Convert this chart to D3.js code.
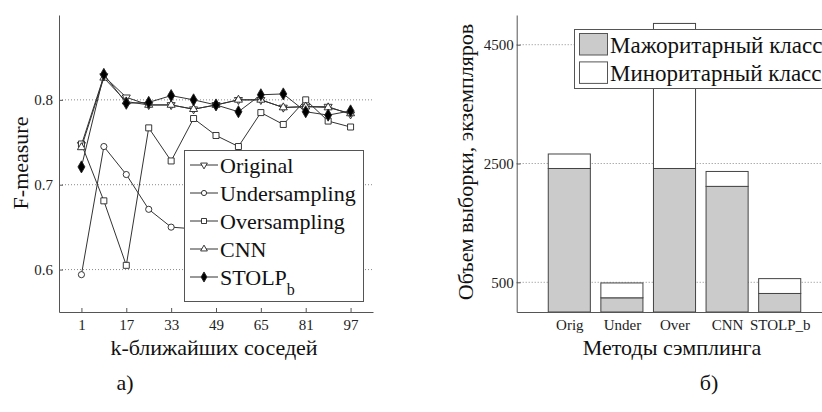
<!DOCTYPE html>
<html>
<head>
<meta charset="utf-8">
<script src="https://cdn.jsdelivr.net/npm/d3@7"></script>
<style>
  body { margin: 0; background: #fff; }
  svg, svg text { font-family: 'Liberation Serif', 'DejaVu Serif', 'Times New Roman', serif; }
  .grid line { stroke: #8a8a8a; stroke-dasharray: 1,2; }
  .axis path, .axis line { stroke: #555; }
  .axis text { fill: #222; font-size: 15px; }
</style>
</head>
<body>
<svg id="fig" width="822" height="412"></svg>
<script>
const FONT = "'Liberation Serif', 'DejaVu Serif', 'Times New Roman', serif";

// левый график: F-measure от k
const kValues = [1, 9, 17, 25, 33, 41, 49, 57, 65, 73, 81, 89, 97];
const original      = [0.747, 0.828, 0.803, 0.794, 0.794, 0.789, 0.794, 0.800, 0.800, 0.791, 0.792, 0.792, 0.783];
const undersampling = [0.594, 0.745, 0.712, 0.671, 0.650, 0.648, 0.645, 0.642, 0.640, 0.638, 0.637, 0.636, 0.635];
const oversampling  = [0.748, 0.681, 0.605, 0.767, 0.728, 0.778, 0.758, 0.745, 0.785, 0.771, 0.800, 0.775, 0.768];
const cnn           = [0.744, 0.826, 0.798, 0.794, 0.794, 0.789, 0.794, 0.800, 0.800, 0.791, 0.792, 0.791, 0.784];
const stolp         = [0.721, 0.830, 0.796, 0.797, 0.805, 0.800, 0.794, 0.786, 0.806, 0.807, 0.786, 0.782, 0.787];
const kTicks = [1, 17, 33, 49, 65, 81, 97];
const fTicks = [0.6, 0.7, 0.8];

// правый график: объем выборки
const methods = ['Orig', 'Under', 'Over', 'CNN', 'STOLP_b'];
const majority = [2416, 239, 2416, 2115, 312];
const minority = [244, 250, 2442, 251, 250];
const sizeTicks = [500, 2500, 4500];

const svg = d3.select('#fig');

function label(x, y, txt, size, rot) {
    return svg.append('text')
        .attr('transform', `translate(${x},${y})` + (rot ? ` rotate(${rot})` : ''))
        .attr('text-anchor', 'middle')
        .attr('font-family', FONT)
        .attr('font-size', size)
        .attr('fill', '#111')
        .text(txt);
}

/* ---------- график а) ---------- */
const xK = d3.scaleLinear().domain([-7, 105]).range([59, 373]);
const yF = d3.scaleLinear().domain([0.55, 0.9]).range([312, 15]);

svg.append('g')
    .attr('class', 'grid')
    .selectAll('line')
    .data(fTicks)
    .enter()
    .append('line')
    .attr('x1', xK.range()[0])
    .attr('x2', xK.range()[1])
    .attr('y1', (d) => yF(d))
    .attr('y2', (d) => yF(d));

const seriesA = [
    { name: 'Original', values: original, symbol: d3.symbolTriangle, rot: 180, size: 28, fill: '#fff' },
    { name: 'Undersampling', values: undersampling, symbol: d3.symbolCircle, rot: 0, size: 30, fill: '#fff' },
    { name: 'Oversampling', values: oversampling, symbol: d3.symbolSquare, rot: 0, size: 36, fill: '#fff' },
    { name: 'CNN', values: cnn, symbol: d3.symbolTriangle, rot: 0, size: 28, fill: '#fff' },
    { name: 'STOLP', sub: 'b', values: stolp, symbol: d3.symbolDiamond, rot: 0, size: 42, fill: '#000' }
];

const line = d3.line()
    .x((d) => xK(d.k))
    .y((d) => yF(d.v));

seriesA.forEach(function (s) {
    const pts = kValues.map((k, i) => ({ k: k, v: s.values[i] }));
    const g = svg.append('g');
    g.append('path')
        .datum(pts)
        .attr('d', line)
        .attr('fill', 'none')
        .attr('stroke', '#333')
        .attr('stroke-width', 1);
    g.selectAll('path.m')
        .data(pts)
        .enter()
        .append('path')
        .attr('class', 'm')
        .attr('d', d3.symbol().type(s.symbol).size(s.size))
        .attr('transform', (d) => `translate(${xK(d.k)},${yF(d.v)}) rotate(${s.rot})`)
        .attr('fill', s.fill)
        .attr('stroke', '#222')
        .attr('stroke-width', 0.9);
});

/* легенда а) */
const legA = svg.append('g');
legA.append('rect')
    .attr('x', 184.5).attr('y', 150.5)
    .attr('width', 179).attr('height', 151)
    .attr('fill', '#fff')
    .attr('stroke', '#555');

seriesA.forEach(function (s, i) {
    const cy = 165 + i * 28;
    legA.append('line')
        .attr('x1', 190).attr('x2', 218)
        .attr('y1', cy).attr('y2', cy)
        .attr('stroke', '#333');
    legA.append('path')
        .attr('d', d3.symbol().type(s.symbol).size(s.size * 0.7))
        .attr('transform', `translate(204,${cy}) rotate(${s.rot})`)
        .attr('fill', s.fill)
        .attr('stroke', '#222')
        .attr('stroke-width', 0.9);
    const t = legA.append('text')
        .attr('x', 220)
        .attr('y', cy + 8)
        .attr('font-family', FONT)
        .attr('font-size', 22)
        .attr('fill', '#111')
        .text(s.name);
    if (s.sub) {
        t.append('tspan')
            .attr('dy', 10)
            .attr('font-size', 16)
            .text(s.sub);
    }
});

/* оси а) */
svg.append('g')
    .attr('class', 'axis')
    .attr('transform', 'translate(59,0)')
    .call(d3.axisLeft(yF).tickValues(fTicks).tickFormat(d3.format('.1f')).tickSizeInner(-4).tickSizeOuter(0).tickPadding(6))
    .attr('font-family', FONT);

svg.append('g')
    .attr('class', 'axis')
    .attr('transform', 'translate(0,312)')
    .call(d3.axisBottom(xK).tickValues(kTicks).tickSizeInner(-4).tickSizeOuter(0).tickPadding(7))
    .attr('font-family', FONT);

label(28, 163, 'F-measure', 22, -90);
label(214, 355, 'k-ближайших соседей', 22);
label(125, 390, 'а)', 22);

/* ---------- график б) ---------- */
const xM = d3.scaleLinear().domain([0, 6]).range([516.7, 832.3]);
const yS = d3.scaleLinear().domain([0, 5000]).range([312, 15]);
const barW = xM(0.8) - xM(0);

svg.append('g')
    .attr('class', 'grid')
    .selectAll('line')
    .data(sizeTicks)
    .enter()
    .append('line')
    .attr('x1', xM(0))
    .attr('x2', 822)
    .attr('y1', (d) => yS(d))
    .attr('y2', (d) => yS(d));

const bars = svg.append('g')
    .selectAll('g')
    .data(methods.map((m, i) => ({ name: m, pos: i + 1, maj: majority[i], min: minority[i] })))
    .enter()
    .append('g');

/*мажоритарный*/
bars.append('rect')
    .attr('x', (d) => xM(d.pos) - barW / 2)
    .attr('y', (d) => yS(d.maj))
    .attr('width', barW)
    .attr('height', (d) => yS(0) - yS(d.maj))
    .attr('fill', '#cbcbcb')
    .attr('stroke', '#444');

/*миноритарный*/
bars.append('rect')
    .attr('x', (d) => xM(d.pos) - barW / 2)
    .attr('y', (d) => yS(d.maj + d.min))
    .attr('width', barW)
    .attr('height', (d) => yS(d.maj) - yS(d.maj + d.min))
    .attr('fill', '#fff')
    .attr('stroke', '#444');

svg.append('g')
    .attr('class', 'axis')
    .attr('transform', `translate(${xM(0)},0)`)
    .call(d3.axisLeft(yS).tickValues(sizeTicks).tickFormat(d3.format('d')).tickSizeInner(-4).tickSizeOuter(0).tickPadding(3))
    .attr('font-family', FONT);

svg.append('g')
    .attr('class', 'axis')
    .attr('transform', 'translate(0,312)')
    .call(d3.axisBottom(xM).tickValues(methods.map((m, i) => i + 1)).tickFormat((d) => methods[d - 1]).tickSizeInner(0).tickSizeOuter(0).tickPadding(7))
    .attr('font-family', FONT);

/* легенда б) */
const legB = svg.append('g');
legB.append('rect')
    .attr('x', 574.5).attr('y', 29.5)
    .attr('width', 260).attr('height', 59)
    .attr('fill', '#fff')
    .attr('stroke', '#555');

const legItems = [
    { label: 'Мажоритарный класс', fill: '#cbcbcb' },
    { label: 'Миноритарный класс', fill: '#fff' }
];
legItems.forEach(function (d, i) {
    const y0 = 33.5 + i * 28.4;
    legB.append('rect')
        .attr('x', 579.5).attr('y', y0)
        .attr('width', 28).attr('height', 21.5)
        .attr('fill', d.fill)
        .attr('stroke', '#555');
    legB.append('text')
        .attr('x', 610)
        .attr('y', y0 + 19.5)
        .attr('font-family', FONT)
        .attr('font-size', 23)
        .attr('fill', '#111')
        .text(d.label);
});

label(473, 162, 'Объем выборки, экземпляров', 22, -90);
label(672, 355, 'Методы сэмплинга', 22);
label(709, 390, 'б)', 22);
</script>
</body>
</html>
